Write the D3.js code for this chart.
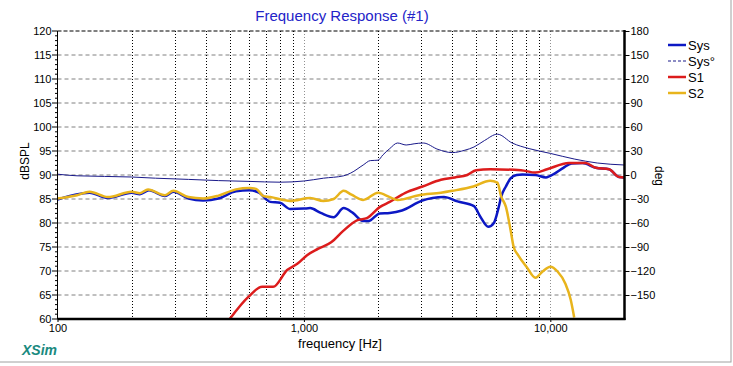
<!DOCTYPE html>
<html>
<head>
<meta charset="utf-8">
<script src="https://cdn.jsdelivr.net/npm/d3@7"></script>
<style>
  body { margin: 0; background: #fff; }
  svg { font-family: "Liberation Sans", Arial, sans-serif; }
  .tick text { font-size: 11px; fill: #000; }
</style>
</head>
<body>
<svg id="chart" width="733" height="366"></svg>
<script>
"use strict";

// frequency [Hz], dBSPL
const sysFreq = [100, 135, 160, 200, 216, 235, 273, 295, 340, 390, 450, 530, 600, 660, 700, 730, 800, 880, 1000, 1060, 1170, 1320, 1450, 1580, 1740, 1830, 2030, 2230, 2500, 3000, 3700, 4200, 4900, 5200, 5600, 5900, 6180, 6320, 6600, 6900, 7300, 7700, 8700, 9600, 10400, 11300, 12200, 13500, 15300, 17300, 19000, 20000];
const sysDb   = [84.9, 86.3, 85.2, 86.3, 86.0, 86.8, 85.6, 86.5, 85.1, 84.7, 85.1, 86.6, 86.8, 86.3, 85.0, 84.4, 84.2, 82.9, 83.0, 83.1, 82.1, 81.2, 83.1, 82.1, 80.4, 80.4, 82.0, 82.1, 82.6, 84.6, 85.4, 84.5, 83.5, 81.3, 79.2, 80.0, 83.4, 85.5, 87.6, 89.3, 90.0, 90.1, 90.0, 89.5, 90.3, 91.5, 92.4, 92.5, 91.5, 91.2, 89.6, 89.5];

// phase [deg]
const phaseFreq = [100, 120, 200, 250, 340, 450, 600, 800, 1000, 1200, 1450, 1550, 1740, 1860, 2000, 2090, 2230, 2400, 2600, 2800, 3050, 3500, 4000, 4500, 4900, 5400, 6100, 7000, 8200, 10000, 12500, 15500, 20000];
const phaseDeg  = [1, -1, -2.5, -4, -5.5, -7, -8, -9, -7.5, -4, -1, 2.5, 12.5, 18, 18.5, 25, 33, 40, 37.5, 39, 40, 32, 28, 31, 35, 43, 51, 40, 33, 27, 20, 15, 12.5];

const s1Freq = [500, 595, 677, 750, 855, 940, 1030, 1140, 1290, 1440, 1650, 1800, 2030, 2230, 2580, 3030, 3600, 4100, 4600, 5000, 5700, 7600, 8700, 9700, 11900, 13900, 15300, 17300, 19000, 20000];
const s1Db   = [60.0, 64.6, 66.7, 66.7, 70.2, 71.5, 73.3, 74.6, 76.0, 78.3, 80.6, 81.0, 83.3, 84.4, 86.3, 87.6, 89.0, 89.5, 90.0, 91.0, 91.2, 91.0, 90.5, 91.2, 92.5, 92.5, 91.5, 91.2, 89.6, 89.5];

const s2Freq = [100, 120, 135, 160, 200, 216, 233, 273, 295, 340, 390, 450, 530, 600, 640, 685, 730, 880, 1060, 1200, 1320, 1450, 1560, 1740, 2000, 2230, 2400, 2930, 3600, 4000, 4870, 5700, 6100, 6320, 6600, 6900, 7100, 7400, 8000, 8700, 9300, 10000, 10700, 11500, 12100, 12500];
const s2Db   = [85.1, 85.8, 86.5, 85.4, 86.5, 86.2, 87.0, 85.8, 86.7, 85.4, 85.1, 85.7, 87.0, 87.3, 87.1, 85.6, 85.4, 84.6, 85.2, 84.6, 85.0, 86.7, 85.9, 84.8, 86.3, 85.4, 84.8, 85.8, 86.3, 86.7, 87.6, 88.8, 88.4, 85.5, 83.4, 78.5, 75.0, 73.3, 70.9, 68.6, 69.9, 70.9, 69.9, 67.4, 64.0, 60.3];

const dbTicks = [60, 65, 70, 75, 80, 85, 90, 95, 100, 105, 110, 115, 120];
const degTicks = [-150, -120, -90, -60, -30, 0, 30, 60, 90, 120, 150, 180];
const freqTicks = [100, 1000, 10000];
const freqGrid = [200, 300, 400, 500, 600, 700, 800, 900, 1000, 2000, 3000, 4000, 5000, 6000, 7000, 8000, 9000, 10000];

const legendItems = [
  {label: "Sys",  color: "#0c18c4", width: 2.5, dash: null},
  {label: "Sys\u00b0", color: "#1a1a8a", width: 1, dash: "3,2"},
  {label: "S1",   color: "#dc1c1c", width: 2.5, dash: null},
  {label: "S2",   color: "#e8b41c", width: 2.5, dash: null},
];

const svg = d3.select("#chart");
const plot = {left: 57.5, right: 624.5, top: 31, bottom: 319};

const x = d3.scaleLog().domain([100, 20000]).range([plot.left, plot.right]);
const y = d3.scaleLinear().domain([60, 120]).range([plot.bottom, plot.top]);
const yDeg = d3.scaleLinear().domain([-180, 180]).range([plot.bottom, plot.top]);

// outer frame
svg.append("rect")
   .attr("x", -1).attr("y", -1).attr("width", 732).attr("height", 363)
   .attr("fill", "none").attr("stroke", "#a0a0a0");

// title
svg.append("text")
   .attr("x", 342).attr("y", 21)
   .attr("text-anchor", "middle")
   .attr("font-size", 15)
   .attr("fill", "#2323c8")
   .text("Frequency Response (#1)");

// grid
svg.append("g")
   .selectAll("line")
   .data(dbTicks.filter(d => d > 60 && d < 120))
   .join("line")
   .attr("x1", plot.left).attr("x2", plot.right)
   .attr("y1", d => y(d)).attr("y2", d => y(d))
   .attr("stroke", "#808080")
   .attr("stroke-dasharray", "4,3");

svg.append("g")
   .selectAll("line")
   .data(freqGrid)
   .join("line")
   .attr("x1", d => Math.round(x(d)) + 0.5).attr("x2", d => Math.round(x(d)) + 0.5)
   .attr("y1", plot.top).attr("y2", plot.bottom)
   .attr("stroke", d => (d === 1000 || d === 10000) ? "#909090" : "#000")
   .attr("stroke-dasharray", "1,2");

// top border dashed
svg.append("line")
   .attr("x1", plot.left).attr("x2", plot.right)
   .attr("y1", plot.top).attr("y2", plot.top)
   .attr("stroke", "#000").attr("stroke-dasharray", "4,2");

// curves
const line = (fs, vs, scale) => d3.line()
  .x(i => x(fs[i]))
  .y(i => scale(vs[i]))
  .curve(d3.curveMonotoneX)(d3.range(fs.length));

const curves = svg.append("g");
curves.append("path")
      .attr("d", line(phaseFreq, phaseDeg, yDeg))
      .attr("fill", "none").attr("stroke", "#1a1a8a").attr("stroke-width", 1);
curves.append("path")
      .attr("d", line(sysFreq, sysDb, y))
      .attr("fill", "none").attr("stroke", "#0c18c4").attr("stroke-width", 2.5);
curves.append("path")
      .attr("d", line(s1Freq, s1Db, y))
      .attr("fill", "none").attr("stroke", "#dc1c1c").attr("stroke-width", 2.5);
curves.append("path")
      .attr("d", line(s2Freq, s2Db, y))
      .attr("fill", "none").attr("stroke", "#e8b41c").attr("stroke-width", 2.5);

// left axis
const minorDb = d3.range(60, 121, 1);
svg.append("g")
   .selectAll("line")
   .data(minorDb)
   .join("line")
   .attr("x1", d => d % 5 === 0 ? 52 : 55).attr("x2", plot.left)
   .attr("y1", d => y(d)).attr("y2", d => y(d))
   .attr("stroke", "#000");

svg.append("g")
   .attr("transform", `translate(${plot.left - 5}, 0)`)
   .call(d3.axisLeft(y).tickValues(dbTicks).tickSize(0).tickPadding(1))
   .call(g => g.select(".domain").remove());

svg.append("line")
   .attr("x1", plot.left).attr("x2", plot.left)
   .attr("y1", plot.top).attr("y2", plot.bottom)
   .attr("stroke", "#000");

svg.append("text")
   .attr("transform", "translate(29, 161) rotate(-90)")
   .attr("text-anchor", "middle")
   .attr("font-size", 12)
   .text("dBSPL");

// right axis
svg.append("g")
   .attr("transform", `translate(${plot.right}, 0)`)
   .call(d3.axisRight(yDeg).tickValues(degTicks).tickSize(5).tickPadding(1).tickSizeOuter(0))
   .call(g => g.select(".domain").remove());

svg.append("line")
   .attr("x1", plot.right).attr("x2", plot.right)
   .attr("y1", plot.top - 1).attr("y2", plot.bottom + 1)
   .attr("stroke", "#000").attr("stroke-width", 2.5);

svg.append("text")
   .attr("transform", "translate(655, 176) rotate(90)")
   .attr("text-anchor", "middle")
   .attr("font-size", 12)
   .text("deg");

// bottom axis
svg.append("g")
   .attr("transform", `translate(0, ${plot.bottom})`)
   .call(d3.axisBottom(x).tickValues(freqTicks).tickFormat(d3.format(",")).tickSize(3).tickPadding(2))
   .call(g => g.select(".domain").remove());

svg.append("line")
   .attr("x1", plot.left).attr("x2", plot.right + 1)
   .attr("y1", plot.bottom).attr("y2", plot.bottom)
   .attr("stroke", "#000").attr("stroke-width", 2.5);

svg.append("text")
   .attr("x", 340).attr("y", 348)
   .attr("text-anchor", "middle")
   .attr("font-size", 13)
   .text("frequency [Hz]");

svg.append("text")
   .attr("x", 22).attr("y", 355)
   .attr("font-size", 14)
   .attr("font-weight", "bold")
   .attr("font-style", "italic")
   .attr("fill", "#1a8a80")
   .text("XSim");

// legend
const legend = svg.append("g").attr("transform", "translate(668, 45)");
const entry = legend.selectAll("g")
  .data(legendItems)
  .join("g")
  .attr("transform", (d, i) => `translate(0, ${i * 16})`);
entry.append("line")
     .attr("x1", 0).attr("x2", 18)
     .attr("stroke", d => d.color)
     .attr("stroke-width", d => d.width)
     .attr("stroke-dasharray", d => d.dash);
entry.append("text")
     .attr("x", 20).attr("dy", "0.35em")
     .attr("font-size", 13)
     .text(d => d.label);
</script>
</body>
</html>
